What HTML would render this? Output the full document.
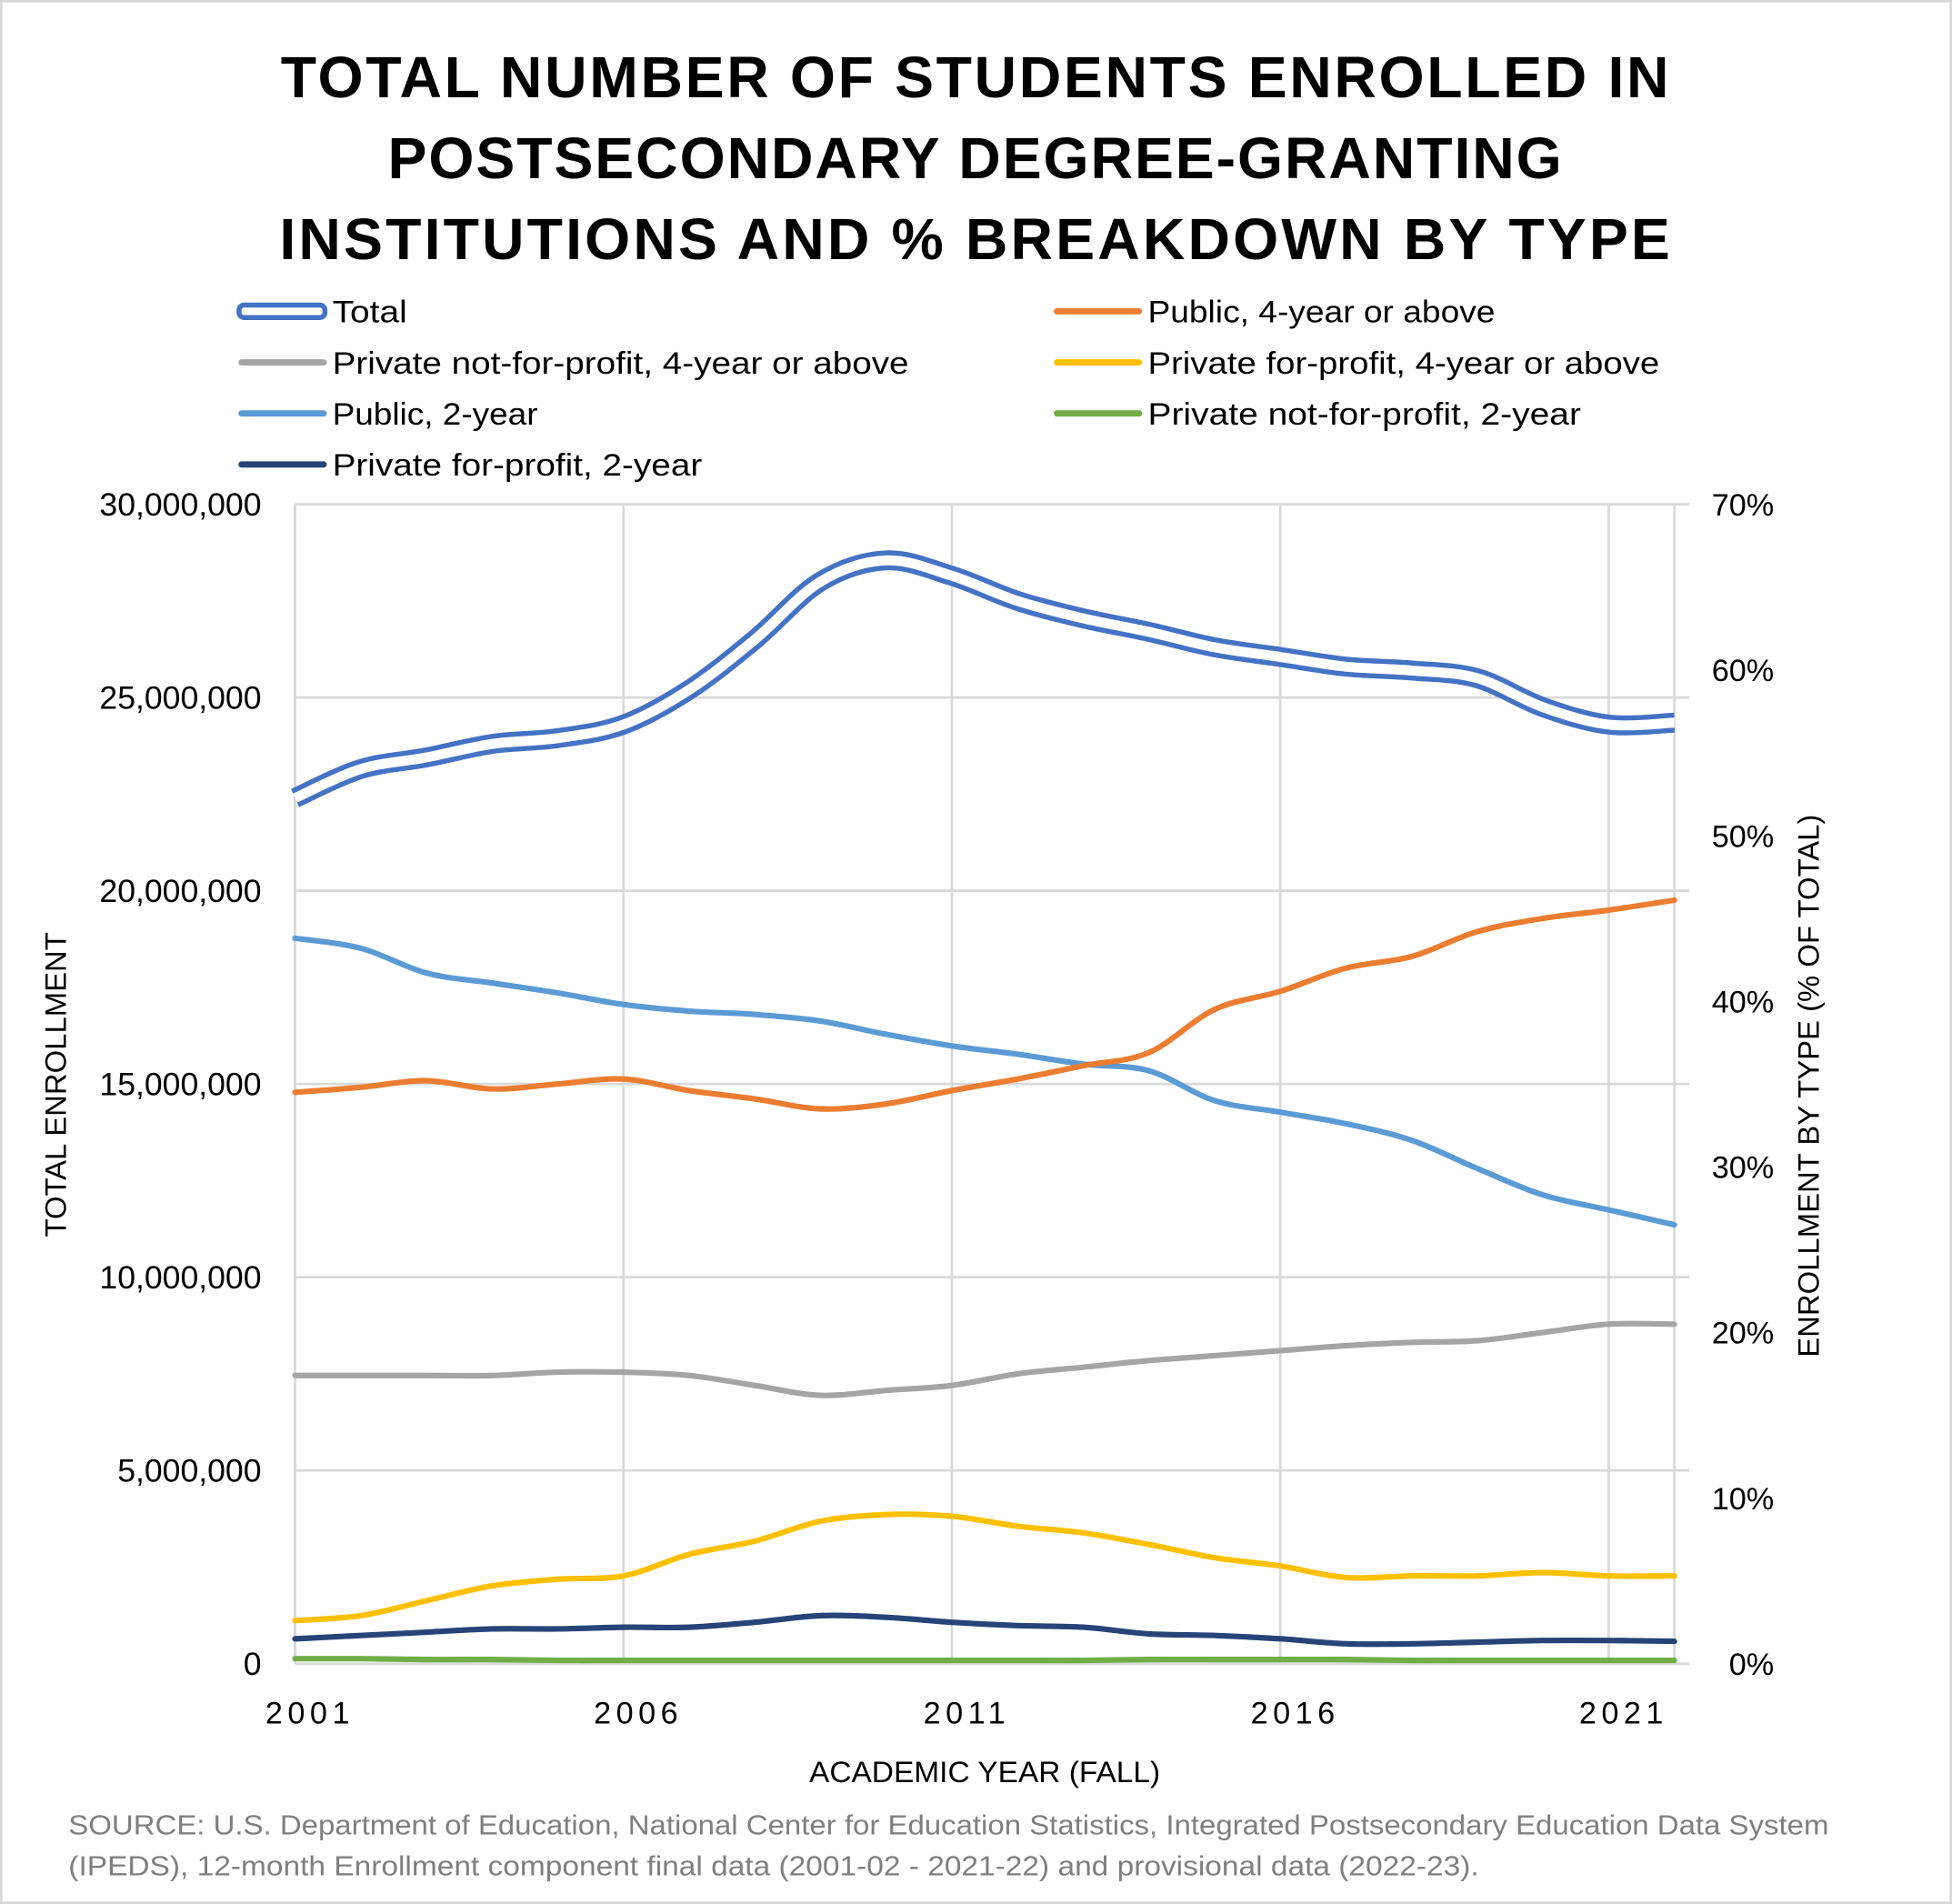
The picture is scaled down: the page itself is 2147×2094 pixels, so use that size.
<!DOCTYPE html>
<html><head><meta charset="utf-8"><style>
html,body{margin:0;padding:0;background:#fff;}
svg{display:block;font-family:"Liberation Sans",sans-serif;}
</style></head><body>
<svg id="chart" width="2147" height="2094" viewBox="0 0 1568 1529" preserveAspectRatio="none" xmlns="http://www.w3.org/2000/svg">
<rect x="1" y="1" width="1566" height="1527" fill="#fff" stroke="#d9d9d9" stroke-width="2"/>
<g font-weight="bold" font-size="47" fill="#000" text-anchor="middle">
<text x="783" y="78" textLength="1115" lengthAdjust="spacing">TOTAL NUMBER OF STUDENTS ENROLLED IN</text>
<text x="783" y="143" textLength="943" lengthAdjust="spacing">POSTSECONDARY DEGREE-GRANTING</text>
<text x="783" y="208" textLength="1117" lengthAdjust="spacing">INSTITUTIONS AND % BREAKDOWN BY TYPE</text>
</g>
<g id="legend" font-size="25" fill="#000"></g>
<g id="grid"></g>
<g id="axes" font-size="25" fill="#000"></g>
<g id="series"></g>
<text x="791" y="1431" text-anchor="middle" font-size="24" textLength="282" lengthAdjust="spacingAndGlyphs">ACADEMIC YEAR (FALL)</text>
<text transform="translate(53,871) rotate(-90)" text-anchor="middle" font-size="24">TOTAL ENROLLMENT</text>
<text transform="translate(1461,872) rotate(-90)" text-anchor="middle" font-size="24">ENROLLMENT BY TYPE (% OF TOTAL)</text>
<g font-size="22" fill="#7f7f7f">
<text x="55" y="1473" textLength="1414" lengthAdjust="spacingAndGlyphs">SOURCE: U.S. Department of Education, National Center for Education Statistics, Integrated Postsecondary Education Data System</text>
<text x="55" y="1506" textLength="1133" lengthAdjust="spacingAndGlyphs">(IPEDS), 12-month Enrollment component final data (2001-02 - 2021-22) and provisional data (2022-23).</text>
</g>
</svg>
<script>
const years = [2001,2002,2003,2004,2005,2006,2007,2008,2009,2010,2011,2012,2013,2014,2015,2016,2017,2018,2019,2020,2021,2022];
const totalEnroll = [22.4,23.15,23.45,23.8,23.95,24.3,25.2,26.5,28.0,28.55,28.15,27.5,27.05,26.7,26.3,26.05,25.8,25.7,25.5,24.75,24.3,24.35];
const public4 = [34.5,34.8,35.2,34.7,35.0,35.3,34.6,34.1,33.5,33.8,34.6,35.3,36.1,36.9,39.5,40.6,42.0,42.7,44.2,45.0,45.5,46.1];
const public2 = [43.8,43.2,41.7,41.1,40.5,39.8,39.4,39.2,38.8,38.0,37.3,36.8,36.2,35.8,34.0,33.3,32.6,31.6,29.9,28.3,27.4,26.5];
const privNfp4 = [17.4,17.4,17.4,17.4,17.6,17.6,17.4,16.8,16.2,16.5,16.8,17.5,17.9,18.3,18.6,18.9,19.2,19.4,19.5,20.0,20.5,20.5];
const privFp4 = [2.6,2.9,3.8,4.7,5.1,5.3,6.6,7.4,8.6,9.0,8.9,8.3,7.9,7.2,6.4,5.9,5.2,5.3,5.3,5.5,5.3,5.3];
const privFp2 = [1.5,1.7,1.9,2.1,2.1,2.2,2.2,2.5,2.9,2.8,2.5,2.3,2.2,1.8,1.7,1.5,1.2,1.2,1.3,1.4,1.4,1.35];
const privNfp2 = [0.3,0.3,0.25,0.25,0.2,0.2,0.2,0.2,0.2,0.2,0.2,0.2,0.2,0.25,0.25,0.25,0.25,0.2,0.2,0.2,0.2,0.2];
const leftTicks = ["0","5,000,000","10,000,000","15,000,000","20,000,000","25,000,000","30,000,000"];
const rightTicks = ["0%","10%","20%","30%","40%","50%","60%","70%"];
const xTickYears = [2001,2006,2011,2016,2021];

const NS="http://www.w3.org/2000/svg";
const L=237,R=1345,T=405,B=1336;
const xS=y=>L+(y-2001)*(R-L)/21;
const yL=v=>B-v/30*(B-T);
const yR=p=>B-p/70*(B-T);
function mk(tag,attrs,parent){const e=document.createElementNS(NS,tag);for(const k in attrs)e.setAttribute(k,attrs[k]);parent.appendChild(e);return e;}
const grid=document.getElementById('grid'),axes=document.getElementById('axes'),series=document.getElementById('series'),legend=document.getElementById('legend');
leftTicks.forEach((t,i)=>{
  const y=B-i*(B-T)/6;
  const g=mk('line',{x1:L,x2:R+12,y1:y,y2:y,stroke:'#d9d9d9','stroke-width':2},grid);
  
  
  const tx=mk('text',{x:210,y:y+9,'text-anchor':'end','font-size':26},axes);tx.textContent=t;
  
  
});
rightTicks.forEach((t,i)=>{
  const y=yR(i*10);
  const tx=mk('text',{x:1425,y:y+9,'text-anchor':'end'},axes);tx.textContent=t;
  
  
});
const vg=mk('line',{x1:L,x2:L,y1:T,y2:B,stroke:'#d9d9d9','stroke-width':2},grid);


xTickYears.forEach(yr=>{
  const x=xS(yr);
  const g=mk('line',{x1:x,x2:x,y1:T,y2:B,stroke:'#d9d9d9','stroke-width':2},grid);
  
  
  const tx=mk('text',{x:x+12,y:1384,'text-anchor':'middle','letter-spacing':'4'},axes);tx.textContent=yr;
  
  
});
const rg=mk('line',{x1:R,x2:R,y1:T,y2:B,stroke:'#d9d9d9','stroke-width':2},grid);


function path(vals,yf){
  const p=vals.map((v,i)=>[xS(years[i]),yf(v)]);
  let d=`M${p[0][0]},${p[0][1]}`;
  for(let i=0;i<p.length-1;i++){
    const p0=p[Math.max(0,i-1)],p1=p[i],p2=p[i+1],p3=p[Math.min(p.length-1,i+2)];
    const c1=[p1[0]+(p2[0]-p0[0])/6,p1[1]+(p2[1]-p0[1])/6];
    const c2=[p2[0]-(p3[0]-p1[0])/6,p2[1]-(p3[1]-p1[1])/6];
    d+=` C${c1[0]},${c1[1]} ${c2[0]},${c2[1]} ${p2[0]},${p2[1]}`;
  }
  return d;
}
const defs=[
  [privNfp4,'#a5a5a5','line-private-nfp-4yr'],
  [public2,'#5b9bd5','line-public-2yr'],
  [public4,'#ed7d31','line-public-4yr'],
  [privFp4,'#ffc000','line-private-fp-4yr'],
  [privFp2,'#264478','line-private-fp-2yr'],
  [privNfp2,'#70ad47','line-private-nfp-2yr']
];
defs.forEach(([vals,c,n])=>{
  const e=mk('path',{d:path(vals,yR),fill:'none',stroke:c,'stroke-width':4.5,'stroke-linecap':'round'},series);
  
  
});
const td=path(totalEnroll,yL);
const t1=mk('path',{d:td,fill:'none',stroke:'#4472c4','stroke-width':16},series);


const t2=mk('path',{d:td,fill:'none',stroke:'#fff','stroke-width':8},series);


const leg=[
  ['Total','#4472c4',192,250,60,true],
  ['Public, 4-year or above','#ed7d31',847,250,279],
  ['Private not-for-profit, 4-year or above','#a5a5a5',192,291,463],
  ['Private for-profit, 4-year or above','#ffc000',847,291,411],
  ['Public, 2-year','#5b9bd5',192,332,165],
  ['Private not-for-profit, 2-year','#70ad47',847,332,348],
  ['Private for-profit, 2-year','#264478',192,373,297]
];
leg.forEach(([label,c,x,y,w,dbl])=>{
  const g=mk('g',{},legend);
  
  
  if(dbl){
    mk('rect',{x:x,y:y-5,width:69,height:10,rx:4,fill:'#fff',stroke:'#4472c4','stroke-width':4},g);
  }else{
    mk('line',{x1:x+2,x2:x+68,y1:y,y2:y,stroke:c,'stroke-width':5,'stroke-linecap':'round'},g);
  }
  const t=mk('text',{x:x+75,y:y+9,textLength:w,lengthAdjust:'spacingAndGlyphs'},g);t.textContent=label;
});
</script>
</body></html>
